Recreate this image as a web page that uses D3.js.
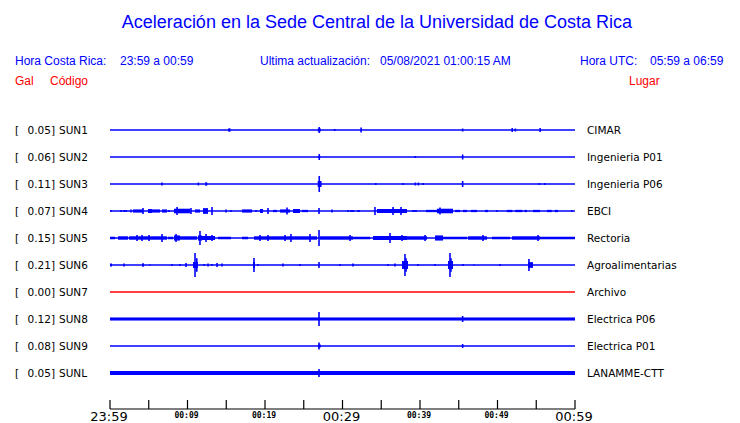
<!DOCTYPE html>
<html><head><meta charset="utf-8">
<script src="https://cdn.jsdelivr.net/npm/d3@7/dist/d3.min.js"></script>
<style>body{margin:0;background:#fff}svg{display:block}</style>
</head><body>
<script>
// ---- data ----
const codes = ["SUN1","SUN2","SUN3","SUN4","SUN5","SUN6","SUN7","SUN8","SUN9","SUNL"];
const places = ["CIMAR","Ingenieria P01","Ingenieria P06","EBCI","Rectoria","Agroalimentarias","Archivo","Electrica P06","Electrica P01","LANAMME-CTT"];
const peaks = [0.05,0.06,0.11,0.07,0.15,0.21,0.00,0.12,0.08,0.05];
const active = [true,true,true,true,true,true,false,true,true,true];
const tickMinutes = [0,5,10,15,20,25,30,35,40,45,50,55,60];
const labelMinutes = [0,10,20,30,40,50,60];
const tickLabels = ["23:59","00:09","00:19","00:29","00:39","00:49","00:59"];
const majorLabel = [true,false,false,true,false,false,true];

// bursts: [startMinute, endMinute, amplitude Gal]; spikes: [minute, amplitude Gal]
const sun1Bursts = [[15.25,15.55,0.026],[26.8,27.2,0.026]];
const sun1Spikes = [[15.4,0.026],[27.0,0.053],[29.0,0.018],[32.4,0.044],[45.5,0.026],[51.9,0.035],[52.3,0.026],[55.5,0.035]];
const sun2Bursts = [[26.85,27.15,0.018]];
const sun2Spikes = [[27.0,0.053],[39.4,0.018],[45.5,0.044]];
const sun3Bursts = [[12.3,12.55,0.026],[26.8,27.3,0.053]];
const sun3Spikes = [[6.7,0.026],[11.4,0.026],[12.4,0.026],[27.0,0.14],[34.3,0.018],[37.8,0.018],[39.4,0.026],[39.8,0.026],[40.4,0.018],[45.5,0.053],[55.4,0.018],[56.1,0.018]];
const sun4Bursts = [[1.68,2.19,0.015],[2.97,4.26,0.028],[4.9,5.42,0.035],[5.16,6.45,0.028],[6.71,7.35,0.028],[8.26,10.32,0.04],[10.97,11.61,0.028],[12.0,12.65,0.05],[17.03,18.32,0.028],[18.71,18.97,0.015],[19.35,19.74,0.035],[21.03,21.55,0.02],[21.94,23.23,0.028],[23.61,24.52,0.035],[24.77,25.55,0.02],[30.97,31.5,0.015],[31.9,32.26,0.015],[34.45,38.32,0.035],[38.97,39.61,0.015],[40.77,42.19,0.02],[42.19,44.26,0.04],[44.52,45.16,0.02],[45.55,46.06,0.02],[46.58,47.35,0.02],[48.39,48.77,0.02],[51.2,51.9,0.02],[52.3,53.2,0.02],[53.5,53.8,0.02],[54.58,55.48,0.02],[56.39,57.0,0.02],[57.4,57.81,0.02]];
const sun4Spikes = [[0.13,0.018],[1.42,0.018],[2.71,0.026],[4.26,0.053],[7.61,0.018],[8.65,0.07],[10.45,0.053],[13.16,0.07],[14.97,0.026],[15.61,0.018],[20.39,0.053],[22.84,0.061],[26.97,0.053],[28.65,0.026],[30.71,0.018],[34.19,0.07],[36.52,0.07],[37.55,0.07],[42.58,0.061],[49.94,0.018],[59.61,0.018]];
const sun5Bursts = [[0,0.65,0.022],[1.03,2.32,0.03],[2.45,7.35,0.03],[7.48,8.13,0.022],[8.26,9.03,0.045],[9.03,11.23,0.03],[11.35,11.87,0.045],[11.87,13.55,0.035],[13.94,15.61,0.022],[17.03,17.81,0.022],[18.58,24.52,0.03],[24.52,26.71,0.03],[27.1,31.35,0.03],[31.35,33.55,0.022],[33.94,38.32,0.035],[38.32,40.9,0.03],[41.94,42.97,0.045],[42.97,46.06,0.022],[46.19,48.65,0.03],[49.29,51.61,0.022],[51.87,55.48,0.03],[55.48,60,0.022]];
const sun5Spikes = [[3.48,0.053],[4.13,0.053],[5.03,0.053],[6.71,0.07],[8.52,0.07],[11.61,0.123],[12.39,0.07],[13.16,0.053],[19.35,0.053],[20.39,0.053],[22.58,0.053],[23.35,0.07],[25.81,0.07],[26.97,0.14],[30.97,0.053],[36.13,0.088],[37.68,0.053],[40.65,0.053],[48.13,0.053],[55.23,0.053]];
const sun6Bursts = [[0,0.26,0.026],[4.15,4.4,0.026],[10.71,11.35,0.053],[18.45,18.71,0.053],[37.68,38.45,0.07],[43.61,44.26,0.07],[53.94,54.58,0.05]];
const sun6Spikes = [[1.81,0.026],[4.26,0.026],[5.16,0.009],[8.0,0.018],[9.03,0.018],[9.81,0.035],[10.97,0.21],[11.2,0.12],[12.13,0.018],[12.65,0.026],[13.16,0.018],[13.81,0.035],[14.45,0.026],[18.58,0.123],[19.1,0.018],[22.32,0.026],[24.52,0.018],[26.97,0.053],[29.68,0.018],[31.35,0.026],[35.87,0.018],[36.77,0.026],[38.06,0.193],[38.2,0.12],[39.74,0.018],[41.94,0.018],[43.87,0.21],[44.0,0.12],[45.55,0.018],[46.97,0.009],[50.32,0.018],[54.06,0.105]];
const sun7Bursts = [];
const sun7Spikes = [];
const sun8Bursts = [[0,60,0.027]];
const sun8Spikes = [[26.97,0.123],[45.5,0.053]];
const sun9Bursts = [[26.85,27.2,0.026]];
const sun9Spikes = [[26.97,0.061],[45.5,0.035]];
const sunLBursts = [[0,60,0.035]];
const sunLSpikes = [[26.97,0.07]];

const allBursts = [sun1Bursts,sun2Bursts,sun3Bursts,sun4Bursts,sun5Bursts,sun6Bursts,sun7Bursts,sun8Bursts,sun9Bursts,sunLBursts];
const allSpikes = [sun1Spikes,sun2Spikes,sun3Spikes,sun4Spikes,sun5Spikes,sun6Spikes,sun7Spikes,sun8Spikes,sun9Spikes,sunLSpikes];

// ---- drawing ----
const W = 740, H = 423;
const BLUE = "#0000ff", RED = "#ff0000";
const svg = d3.select("body").append("svg").attr("width", W).attr("height", H);

const x = d3.scaleLinear().domain([0, 60]).range([110, 575]);
const y = d3.scalePoint().domain(codes).range([130, 373]);
const amp = d3.scaleLinear().domain([0, 0.2]).range([0, 11.4]);

// title & header
svg.append("text").attr("x", 377).attr("y", 28).attr("text-anchor", "middle")
  .attr("font-family", "Liberation Sans, Arial, sans-serif").attr("font-size", 18)
  .attr("fill", BLUE).text("Aceleración en la Sede Central de la Universidad de Costa Rica");

const hdr = [
  [15, 65, "Hora Costa Rica:", BLUE],
  [120, 65, "23:59 a 00:59", BLUE],
  [260, 65, "Ultima actualización:", BLUE],
  [380, 65, "05/08/2021 01:00:15 AM", BLUE],
  [580, 65, "Hora UTC:", BLUE],
  [650, 65, "05:59 a 06:59", BLUE],
  [15, 85, "Gal", RED],
  [50, 85, "Código", RED],
  [629, 85, "Lugar", RED]
];
svg.selectAll("text.hdr").data(hdr).join("text").attr("class", "hdr")
  .attr("x", d => d[0]).attr("y", d => d[1]).attr("fill", d => d[3])
  .attr("font-family", "Liberation Sans, Arial, sans-serif").attr("font-size", 12)
  .text(d => d[2]);

// rows
const rows = svg.selectAll("g.row").data(codes).join("g").attr("class", "row")
  .attr("transform", d => `translate(0,${y(d)})`);

rows.each(function(code, i) {
  const g = d3.select(this);
  const col = active[i] ? BLUE : RED;
  g.append("text").attr("x", 15).attr("y", 4).attr("font-family", "DejaVu Sans, sans-serif")
    .attr("font-size", 10.5).text("[");
  g.append("text").attr("x", 55).attr("y", 4).attr("text-anchor", "end").attr("font-family", "DejaVu Sans, sans-serif")
    .attr("font-size", 10.5).text(d3.format(".2f")(peaks[i]) + "]");
  g.append("text").attr("x", 59).attr("y", 4).attr("font-family", "DejaVu Sans, sans-serif")
    .attr("font-size", 10.5).text(code);
  g.append("text").attr("x", 587).attr("y", 4).attr("font-family", "DejaVu Sans, sans-serif")
    .attr("font-size", 10.5).text(places[i]);

  g.append("line").attr("x1", x(0)).attr("x2", x(60)).attr("y1", 0).attr("y2", 0)
    .attr("stroke", col).attr("stroke-width", 1.4);

  g.selectAll("rect").data(allBursts[i]).join("rect")
    .attr("x", d => x(d[0])).attr("width", d => Math.max(1, x(d[1]) - x(d[0])))
    .attr("y", d => -amp(d[2])).attr("height", d => 2 * amp(d[2])).attr("fill", col);

  g.selectAll("line.sp").data(allSpikes[i]).join("line").attr("class", "sp")
    .attr("x1", d => x(d[0])).attr("x2", d => x(d[0]))
    .attr("y1", d => -amp(d[1])).attr("y2", d => amp(d[1]))
    .attr("stroke", col).attr("stroke-width", 1.6);
});

// time axis
const axY = 409;
svg.append("line").attr("x1", x(0)).attr("x2", x(60)).attr("y1", axY).attr("y2", axY)
  .attr("stroke", "#000").attr("stroke-width", 1.2);
svg.selectAll("line.tk").data(tickMinutes).join("line").attr("class", "tk")
  .attr("x1", d => x(d)).attr("x2", d => x(d)).attr("y1", axY - 9).attr("y2", axY)
  .attr("stroke", "#000").attr("stroke-width", 1.2);
svg.selectAll("text.tl").data(labelMinutes).join("text").attr("class", "tl")
  .attr("x", d => x(d) - 1).attr("y", (d, i) => majorLabel[i] ? 421 : 418)
  .attr("text-anchor", "middle")
  .attr("font-family", (d, i) => majorLabel[i] ? "DejaVu Sans, sans-serif" : "DejaVu Sans Mono, monospace")
  .attr("font-weight", (d, i) => majorLabel[i] ? "normal" : "bold")
  .attr("font-size", (d, i) => majorLabel[i] ? 13 : 8)
  .text((d, i) => tickLabels[i]);
</script>
</body></html>
